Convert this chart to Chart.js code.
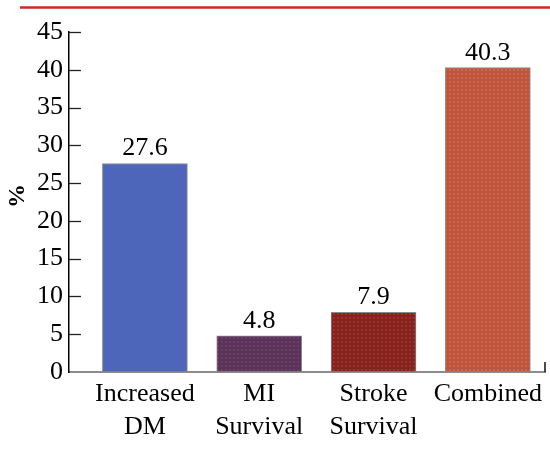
<!DOCTYPE html>
<html>
<head>
<meta charset="utf-8">
<script src="https://cdn.jsdelivr.net/npm/chart.js@4.4.0/dist/chart.umd.min.js"></script>
<style>
  html, body { margin: 0; padding: 0; background: #ffffff; }
  #wrap { width: 550px; height: 451px; }
</style>
</head>
<body>
<div id="wrap"><canvas id="chart" width="550" height="451"></canvas></div>
<script>
// Outcome categories (multi-line labels) and their percentages
const categories = [["Increased", "DM"], ["MI", "Survival"], ["Stroke", "Survival"], ["Combined"]];
const values = [27.6, 4.8, 7.9, 40.3];
const yTicks = [0, 5, 10, 15, 20, 25, 30, 35, 40, 45];

// Bar fill tones (base, dot)
const baseColors = ["#4b68b8", "#593457", "#84221e", "#bf533d"];
const dotColors  = ["#5a60c2", "#6d3c6c", "#9a3228", "#cc6849"];

const SERIF = "'Liberation Serif', 'Times New Roman', serif";

function dotted(base, dot) {
  const c = document.createElement("canvas");
  c.width = 4; c.height = 4;
  const g = c.getContext("2d");
  g.fillStyle = base; g.fillRect(0, 0, 4, 4);
  g.fillStyle = dot; g.fillRect(1, 1, 2, 2);
  return g.createPattern(c, "repeat");
}

const ctx = document.getElementById("chart").getContext("2d");
const fills = baseColors.map((b, i) => dotted(b, dotColors[i]));

// Decorations: top rule, y-axis title, inward tick marks, right end tick, value labels
const decor = {
  id: "decor",
  beforeDraw(chart) {
    const c = chart.ctx;
    c.save();
    c.strokeStyle = "#cc2b1c";
    c.lineWidth = 2.5;
    c.beginPath(); c.moveTo(20, 7.5); c.lineTo(550, 7.5); c.stroke();
    c.restore();
  },
  afterDraw(chart) {
    const c = chart.ctx;
    const ys = chart.scales.y;
    const left = chart.chartArea.left, right = chart.chartArea.right, bottom = chart.chartArea.bottom;
    c.save();
    // inward y ticks
    c.strokeStyle = "#222";
    c.lineWidth = 1.3;
    yTicks.forEach(v => {
      if (v === 0) return;
      const py = Math.round(ys.getPixelForValue(v)) + 0.5;
      c.beginPath(); c.moveTo(left, py); c.lineTo(left + 12, py); c.stroke();
    });
    // small end tick on the x axis
    c.strokeStyle = "#111";
    c.lineWidth = 1.5;
    c.beginPath(); c.moveTo(right, bottom - 10); c.lineTo(right, bottom); c.stroke();
    // y axis title
    c.fillStyle = "#000";
    c.font = "bold 24px " + SERIF;
    c.textAlign = "center"; c.textBaseline = "middle";
    c.translate(18, 196); c.rotate(-Math.PI / 2);
    c.fillText("%", 0, 0);
    c.restore();
    // value labels above bars
    c.save();
    c.fillStyle = "#000";
    c.font = "26px " + SERIF;
    c.textAlign = "center"; c.textBaseline = "alphabetic";
    chart.getDatasetMeta(0).data.forEach((bar, i) => {
      c.fillText(values[i].toFixed(1), bar.x, bar.y - 8);
    });
    c.restore();
  }
};

new Chart(ctx, {
  type: "bar",
  data: {
    datasets: [{
      data: values.map((v, i) => ({ x: i, y: v })),
      backgroundColor: fills,
      borderColor: "#8a8a8a",
      borderWidth: 1,
      borderSkipped: false,
      barThickness: 85
    }]
  },
  options: {
    responsive: false,
    animation: false,
    layout: { padding: { top: 32, right: 5, bottom: 0, left: 0 } },
    plugins: { legend: { display: false }, tooltip: { enabled: false } },
    scales: {
      x: {
        type: "linear",
        offset: false,
        min: -0.664,
        max: 3.5,
        afterBuildTicks(scale) { scale.ticks = categories.map((_, i) => ({ value: i })); },
        afterFit(scale) { scale.height = 79; },
        grid: { display: false, drawTicks: false },
        border: { display: true, color: "#8c8c8c", width: 2 },
        ticks: {
          autoSkip: false,
          maxRotation: 0,
          padding: 6,
          color: "#000",
          font: { family: SERIF, size: 26, lineHeight: 1.27 },
          callback: (v) => categories[v]
        }
      },
      y: {
        min: 0,
        max: 45,
        afterBuildTicks(scale) { scale.ticks = yTicks.map(v => ({ value: v })); },
        afterFit(scale) { scale.width = 69; },
        grid: { display: false, drawTicks: false },
        border: { display: true, color: "#000", width: 1.5 },
        ticks: {
          padding: 6,
          color: "#000",
          font: { family: SERIF, size: 26 }
        }
      }
    }
  },
  plugins: [decor]
});
</script>
</body>
</html>
